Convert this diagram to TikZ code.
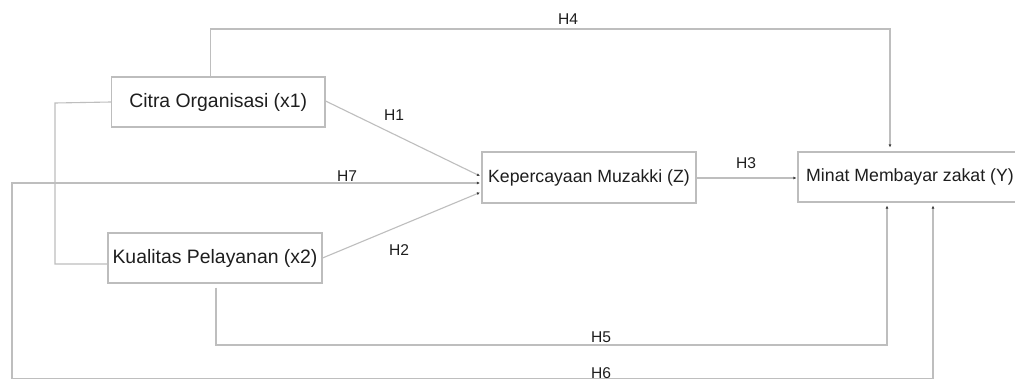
\documentclass[tikz,border=0pt]{standalone}
\usepackage{fontspec}
\setmainfont{Liberation Sans}
\usetikzlibrary{arrows.meta,calc}
\definecolor{linegray}{HTML}{BEBEBE}
\definecolor{boxgray}{HTML}{BDBDBD}
\definecolor{txt}{HTML}{1E1E1E}
\definecolor{tipgray}{HTML}{404040}
\tikzset{
  var/.style={draw=boxgray, line width=1.1pt, fill=white, text=txt, inner sep=0pt, minimum height=50pt},
  bigtext/.style={font=\fontsize{19.4}{22}\selectfont},
  midtext/.style={font=\fontsize{17.7}{20}\selectfont},
  conn/.style={draw=linegray, line width=1.1pt},
  arr/.style={conn, -{Latex[length=3pt,width=3pt,color=tipgray]}},
  dbl/.style={conn, {Latex[length=3pt,width=3pt,color=tipgray]}-{Latex[length=3pt,width=3pt,color=tipgray]}},
  hlabel/.style={text=txt, inner sep=0pt, font=\fontsize{15.6}{18}\selectfont}
}
\begin{document}
\begin{tikzpicture}[x=1pt,y=-1pt]
\clip (0,0) rectangle (1015,380);
\fill[white] (0,0) rectangle (1015,380);

% variables
\node[var,bigtext,minimum width=213.5pt] (citra) at (218.25,102) {Citra Organisasi (x1)};
\node[var,bigtext,minimum width=214pt] (kual) at (215,258) {Kualitas Pelayanan (x2)};
\node[var,midtext,minimum width=214pt,minimum height=51pt] (kep) at (589,177.5) {Kepercayaan Muzakki (Z)};
\node[var,midtext,minimum width=224pt] (minat) at (910,177) {Minat Membayar zakat (Y)};

% corner coordinates
\coordinate (corr) at (55,103);
\coordinate (h4c) at (890,29);
\coordinate (h5c) at (887,345);
\coordinate (h6c) at (12,378.5);

% correlation between x1 and x2
\draw[conn] (citra.west) -- (corr) |- ([yshift=-6pt]kual.west);

% H1, H2
\draw[arr] ([yshift=1pt]citra.east) -- ([xshift=-1.5pt,yshift=1.5pt]kep.west);
\draw[arr] (kual.east) -- ([xshift=-1.5pt,yshift=-15pt]kep.west);

% H3
\draw[arr, shorten >=1pt] ([yshift=-0.5pt]kep.east) -- ([yshift=-1pt]minat.west);

% H4
\draw[arr, shorten >=4pt] ([xshift=-8pt]citra.north) |- (h4c) -- ([xshift=-20pt]minat.north);

% H5
\draw[arr, shorten >=3pt] ([xshift=1pt,yshift=-4pt]kual.south) |- (h5c) -- ([xshift=-23pt]minat.south);

% H6 / H7
\draw[dbl, shorten <=1.5pt, shorten >=3pt] ([yshift=-5.5pt]kep.west) -| (h6c) -| ([xshift=23pt]minat.south);

% labels
\node[hlabel] (l1) at (394,115) {H1};
\node[hlabel] (l2) at (399,250) {H2};
\node[hlabel] (l3) at (746,163) {H3};
\node[hlabel] (l4) at (568,19) {H4};
\node[hlabel] (l5) at (601,337) {H5};
\node[hlabel] (l6) at (601,373) {H6};
\node[hlabel] (l7) at (347,176) {H7};
\end{tikzpicture}
\end{document}
